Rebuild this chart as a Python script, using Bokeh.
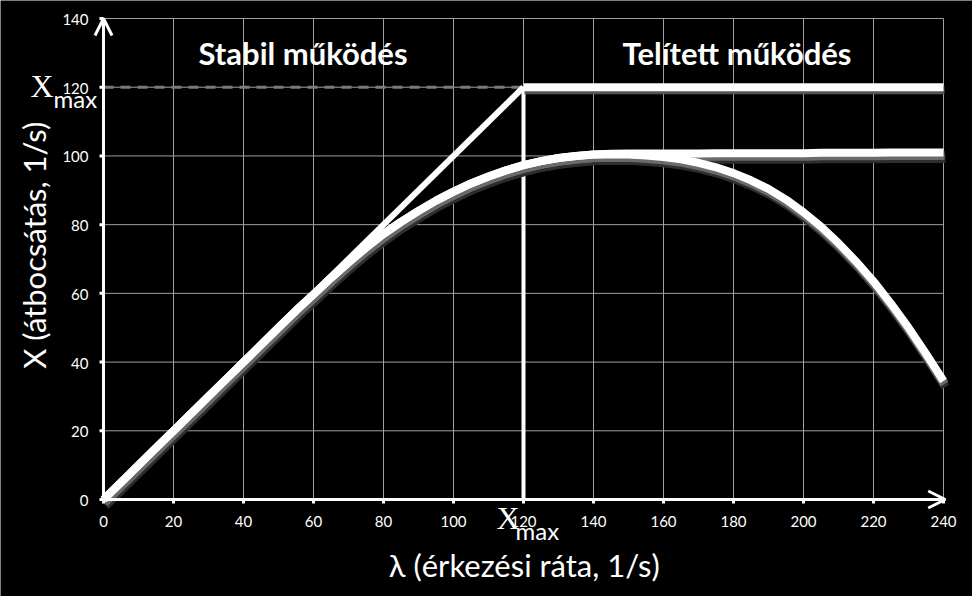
import math
from bokeh.plotting import figure
from bokeh.models import Arrow, OpenHead, Range1d
from bokeh.embed import file_html
from bokeh.resources import INLINE
from bokeh.core.properties import value

# ---- data ----
lam = [0, 5, 10, 15, 20, 25, 30, 35, 40, 45, 50, 55, 60, 65, 70, 75, 80, 85, 90,
       95, 100, 105, 110, 115, 120, 125, 130, 135, 140, 145, 150, 155, 160, 165,
       170, 175, 180, 185, 190, 195, 200, 205, 210, 215, 220, 225, 230, 235, 240]
thr_stable = [0, 5, 10, 15, 20, 25, 30, 35, 40, 45, 50, 55, 59.7, 64.5, 69, 73.3,
              77.3, 80.8, 84, 87, 89.6, 92, 94, 95.8, 97.3, 98.5, 99.4, 100, 100.4,
              100.6, 100.7, 100.7, 100.7, 100.7, 100.7, 100.8, 100.8, 100.8, 100.8,
              100.8, 100.8, 100.9, 100.9, 100.9, 100.9, 101, 101, 101, 101]
thr_collapse = [0, 5, 10, 15, 20, 25, 30, 35, 40, 45, 50, 55, 59.7, 64.5, 69, 73.3,
                77.3, 80.8, 84, 87, 89.6, 92, 94, 95.8, 97.3, 98.5, 99.4, 100, 100.4,
                100.5, 100.4, 100.1, 99.7, 99, 98, 96.7, 95, 92.9, 90.4, 87.3, 83.6,
                79.4, 74.6, 69.3, 63.5, 57, 50, 42.4, 34.5]
ideal_x = [0, 120, 240]
ideal_y = [0, 120, 120]
xmax = 120
x_ticks = [0, 20, 40, 60, 80, 100, 120, 140, 160, 180, 200, 220, 240]
y_ticks = [0, 20, 40, 60, 80, 100, 120, 140]
x_tick_labels = [str(t) for t in x_ticks]
y_tick_labels = [str(t) for t in y_ticks]
region_labels = ["Stabil működés", "Telített működés"]
x_title = "λ (érkezési ráta, 1/s)"
y_title = "X (átbocsátás, 1/s)"

# ---- layout (pixels of the plot area inside the 972x596 canvas) ----
W, H = 972, 596
LEFT, RIGHT, TOP, BOTTOM = 103, 943, 18, 499
XMIN, XMAX, YMIN, YMAX = 0, 240, 0, 140
sx = (RIGHT - LEFT) / (XMAX - XMIN)
sy = (BOTTOM - TOP) / (YMAX - YMIN)
x_range = (XMIN - LEFT / sx, XMAX + (W - RIGHT) / sx)
y_range = (YMIN - (H - BOTTOM) / sy, YMAX + TOP / sy)

FONT = "Lato"
SERIF = "Liberation Serif"
GRID = "#a0a0a0"

p = figure(width=W, height=H, x_range=x_range, y_range=y_range,
           output_backend="svg", toolbar_location=None,
           min_border=0)
p.background_fill_color = "black"
p.border_fill_color = "black"
p.outline_line_color = None
p.axis.visible = False
p.grid.visible = False

# shifted ranges used only to draw soft drop shadows (offset in pixels)
def shifted(rng, px, scale):
    return Range1d(rng[0] + px / scale, rng[1] + px / scale)

p.extra_x_ranges = {"sh1": shifted(x_range, -1, sx), "sh2": shifted(x_range, -2, sx)}
p.extra_y_ranges = {"sh1": shifted(y_range, 3, sy), "sh2": shifted(y_range, 6, sy)}

# grid lines
gx = x_ticks[1:]
gy = y_ticks[1:]
p.segment(x0=gx, y0=[YMIN] * len(gx), x1=gx, y1=[YMAX] * len(gx),
          line_color=GRID, line_width=1)
p.segment(x0=[XMIN] * len(gy), y0=gy, x1=[XMAX] * len(gy), y1=gy,
          line_color=GRID, line_width=1)

# reference lines
p.line([0, xmax], [xmax, xmax], line_color="#7a7a7a", line_width=3, line_dash="10 7")
p.line([xmax, xmax], [0, xmax], line_color="white", line_width=4)

# ideal throughput
p.line(ideal_x[:2], ideal_y[:2], line_color="white", line_width=6, line_join="round")
p.line(ideal_x[1:], ideal_y[1:], line_color="#555555", line_width=8,
       x_range_name="sh1", y_range_name="sh1")
p.line(ideal_x[1:], ideal_y[1:], line_color="white", line_width=8, line_join="round")

# real curves with soft shadow below
for ys in (thr_collapse, thr_stable):
    p.line(lam, ys, line_color="#2e2e2e", line_width=9, line_join="round",
           x_range_name="sh2", y_range_name="sh2")
for ys in (thr_collapse, thr_stable):
    p.line(lam, ys, line_color="#6a6a6a", line_width=9, line_join="round",
           x_range_name="sh1", y_range_name="sh1")
for ys in (thr_collapse, thr_stable):
    p.line(lam, ys, line_color="white", line_width=8, line_join="round")

# axes with arrows
p.add_layout(Arrow(end=OpenHead(size=17, line_color="white", line_width=3),
                   x_start=XMIN, y_start=YMIN, x_end=XMIN, y_end=YMAX,
                   line_color="white", line_width=3))
p.add_layout(Arrow(end=OpenHead(size=17, line_color="white", line_width=3),
                   x_start=XMIN, y_start=YMIN, x_end=XMAX + 0.5, y_end=YMIN,
                   line_color="white", line_width=3))

# tick marks (4 px outside the axes)
tx = 4 / sx
ty = 4 / sy
p.segment(x0=x_ticks, y0=[YMIN] * len(x_ticks), x1=x_ticks, y1=[YMIN - ty] * len(x_ticks),
          line_color="white", line_width=3)
p.segment(x0=[XMIN] * len(y_ticks), y0=y_ticks, x1=[XMIN - tx] * len(y_ticks), y1=y_ticks,
          line_color="white", line_width=3)

# tick labels
p.text(x=x_ticks, y=[YMIN] * len(x_ticks), text=x_tick_labels, y_offset=22,
       text_color="white", text_font=value(FONT), text_font_size="15px",
       text_align="center", text_baseline="middle")
p.text(x=[XMIN] * len(y_ticks), y=y_ticks, text=y_tick_labels, x_offset=-15, y_offset=1,
       text_color="white", text_font=value(FONT), text_font_size="15px",
       text_align="right", text_baseline="middle")

# axis titles
p.text(x=[xmax], y=[YMIN], text=[x_title], y_offset=65,
       text_color="white", text_font=value(FONT), text_font_size="31px",
       text_align="center", text_baseline="middle")
p.text(x=[XMIN], y=[74], text=[y_title], x_offset=-70, angle=math.pi / 2,
       text_color="white", text_font=value(FONT), text_font_size="31px",
       text_align="center", text_baseline="middle")

# region titles
p.text(x=[57, 181], y=[130, 130], text=region_labels, text_color="white",
       text_font=value(FONT), text_font_style="bold", text_font_size="31px",
       text_align="center", text_baseline="middle")

# X_max labels (left at the 120 level, below the axis at 120)
p.text(x=[XMIN], y=[xmax], text=["X"], x_offset=-50, y_offset=-1,
       text_color="white", text_font=value(SERIF), text_font_size="32px",
       text_align="right", text_baseline="middle")
p.text(x=[XMIN], y=[xmax], text=["max"], x_offset=-50, y_offset=11,
       text_color="white", text_font=value(FONT), text_font_size="24px",
       text_align="left", text_baseline="middle")
p.text(x=[xmax], y=[YMIN], text=["X"], x_offset=-27, y_offset=18,
       text_color="white", text_font=value(SERIF), text_font_size="32px",
       text_align="left", text_baseline="middle")
p.text(x=[xmax], y=[YMIN], text=["max"], x_offset=-8, y_offset=31,
       text_color="white", text_font=value(FONT), text_font_size="24px",
       text_align="left", text_baseline="middle")

open("out.html", "w").write(file_html(p, INLINE))
